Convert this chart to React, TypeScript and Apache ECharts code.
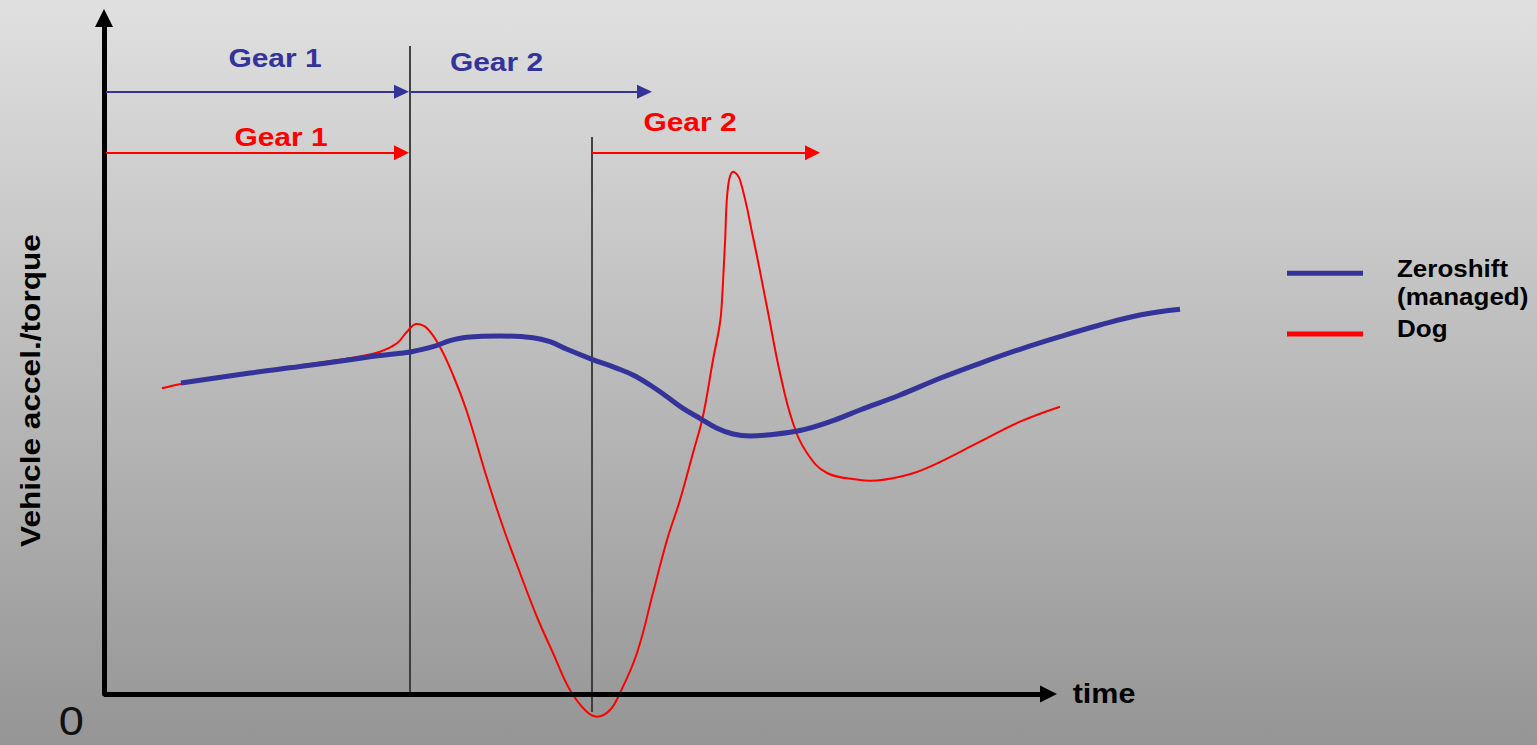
import React, { useEffect, useRef } from "react";
import * as echarts from "echarts";

const FONT = "'Liberation Sans', Arial, Helvetica, sans-serif";
const BLUE = "#333399";
const RED = "#ff0000";
const SX = 1.13;

// axis extents (time, vehicle accel./torque) in arbitrary units
const timeMax = 1080;
const timeAxisEnd = 944.5;
const valueMax = 676;

// Zeroshift (managed) curve: [time, value]
const zeroshift: [number, number][] = [
  [77, 311], [146, 321], [196, 327.4], [246, 334.3], [276, 338.5], [296, 340.7],
  [306, 342], [329, 347.3], [346, 353.3], [363, 356.7], [396, 358], [429, 356.3],
  [446, 352.3], [463, 344.7], [488, 334.7], [513, 325.7], [529, 319], [546, 309],
  [563, 297.3], [579, 285.7], [596, 275.7], [613, 265.7], [629, 260], [646, 258],
  [663, 259], [696, 263.5], [726, 272.3], [756, 284], [796, 299], [836, 315.7],
  [876, 330.7], [916, 344.7], [956, 357.3], [996, 369], [1036, 379], [1076, 384.7],
];

// Dog curve: [time, value]
const dog: [number, number][] = [
  [58, 305.7], [77, 310], [146, 321], [196, 328.5], [246, 336], [276, 342.3],
  [293, 350.7], [303, 362.3], [312.7, 370], [323, 365.7], [336, 347], [349, 319],
  [363, 282], [382, 219], [399, 167], [416, 121], [433, 77], [449, 41], [466, 4],
  [482, -17], [493, -22.7], [506, -16], [516, 1], [533, 41], [549, 101], [563, 154],
  [576, 194], [589, 241], [599, 278], [609, 334], [616, 371], [618, 394], [621, 451],
  [624, 507], [629.3, 522.3], [636, 514], [649, 457], [663, 387], [676, 321],
  [689, 271], [703, 241], [723, 221], [756, 214], [766, 213.3], [803, 219],
  [826, 227.3], [876, 252.3], [916, 272.3], [956, 287.3],
];

// gear-shift instants (vertical lines): [time, top, bottom]
const shiftLines: [number, number, number][] = [
  [306, 648, 0],
  [488, 557, -18],
];

// gear spans: [from, to, level]
const zeroshiftGears: [number, number, number][] = [
  [2, 297.5, 602.3],
  [306, 540.5, 602.3],
];
const dogGears: [number, number, number][] = [
  [2, 297.5, 541.3],
  [488, 708.5, 541.3],
];

export default function App() {
  const ref = useRef<HTMLDivElement>(null);

  useEffect(() => {
    if (!ref.current) return;
    const chart = echarts.init(ref.current, null, { renderer: "svg" });

    const gearMark = (spans: [number, number, number][], color: string, size: number[]) =>
      spans.map(([a, b, lvl]) => [
        { coord: [a, lvl], symbol: "none", lineStyle: { color, width: 2, type: "solid" } },
        { coord: [b, lvl], symbol: "triangle", symbolSize: size },
      ]);

    const txt = (text: string, x: number, y: number, size: number, color: string, weight = "bold", align = "center", rotation = 0) => ({
      type: "text",
      x,
      y,
      rotation,
      scaleX: SX,
      silent: true,
      style: {
        text,
        font: `${weight} ${size}px ${FONT}`,
        fill: color,
        align,
        verticalAlign: "middle",
      },
    });

    chart.setOption({
      animation: false,
      backgroundColor: new echarts.graphic.LinearGradient(0, 0, 0, 1, [
        { offset: 0, color: "#e0e0e0" },
        { offset: 1, color: "#959595" },
      ]),
      grid: { left: 104, right: 353, top: 18, bottom: 51, containLabel: false },
      xAxis: {
        type: "value",
        min: 0,
        max: timeMax,
        axisLine: { show: false },
        axisTick: { show: false },
        axisLabel: { show: false },
        splitLine: { show: false },
      },
      yAxis: {
        type: "value",
        min: 0,
        max: valueMax,
        axisLine: {
          show: true,
          onZero: false,
          symbol: ["none", "triangle"],
          symbolSize: [18, 18],
          lineStyle: { color: "#000", width: 5 },
        },
        axisTick: { show: false },
        axisLabel: { show: false },
        splitLine: { show: false },
      },
      series: [
        ...shiftLines.map(([t, top, bottom], i) => ({
          name: "shift" + i,
          type: "line",
          data: [[t, top], [t, bottom]],
          symbol: "none",
          clip: false,
          silent: true,
          z: 3,
          lineStyle: { color: "#333333", width: 1.8 },
          markLine:
            i === 0
              ? {
                  silent: true,
                  animation: false,
                  label: { show: false },
                  data: [
                    ...gearMark(zeroshiftGears, BLUE, [14, 15]),
                    ...gearMark(dogGears, RED, [15, 15]),
                  ],
                }
              : undefined,
        })),
        {
          name: "timeAxis",
          type: "line",
          data: [],
          silent: true,
          z: 1,
          markLine: {
            silent: true,
            animation: false,
            label: { show: false },
            data: [
              [
                { coord: [0, 0], symbol: "none", lineStyle: { color: "#000", width: 5, type: "solid" } },
                { coord: [timeAxisEnd, 0], symbol: "triangle", symbolSize: [17, 17] },
              ],
            ],
          },
        },
        {
          name: "Dog",
          type: "line",
          data: dog,
          smooth: 0.4,
          symbol: "none",
          clip: false,
          z: 4,
          lineStyle: { color: RED, width: 2 },
        },
        {
          name: "Zeroshift (managed)",
          type: "line",
          data: zeroshift,
          smooth: 0.4,
          symbol: "none",
          clip: false,
          z: 5,
          lineStyle: { color: BLUE, width: 5 },
        },
      ],
      graphic: [
        txt("Gear 1", 275, 57.5, 26.5, BLUE),
        txt("Gear 2", 496.5, 62, 26.5, BLUE),
        txt("Gear 1", 281, 136.5, 26.5, RED),
        txt("Gear 2", 690, 122, 26.5, RED),
        txt("time", 1104, 694, 27, "#000"),
        txt("0", 71.3, 721, 40, "#111", "normal"),
        txt("Vehicle accel./torque", 30, 390.5, 28, "#000", "bold", "center", Math.PI / 2),
        {
          type: "line",
          silent: true,
          shape: { x1: 1287, y1: 273.3, x2: 1363, y2: 273.3 },
          style: { stroke: BLUE, lineWidth: 5 },
        },
        {
          type: "line",
          silent: true,
          shape: { x1: 1287, y1: 334, x2: 1363, y2: 334 },
          style: { stroke: RED, lineWidth: 5 },
        },
        txt("Zeroshift", 1397, 269, 23, "#000", "bold", "left"),
        txt("(managed)", 1397, 296.7, 23, "#000", "bold", "left"),
        txt("Dog", 1397, 329.4, 23, "#000", "bold", "left"),
      ],
    });

    return () => chart.dispose();
  }, []);

  return (
    <div
      ref={ref}
      style={{ position: "absolute", left: 0, top: 0, width: 1537, height: 745 }}
    />
  );
}
